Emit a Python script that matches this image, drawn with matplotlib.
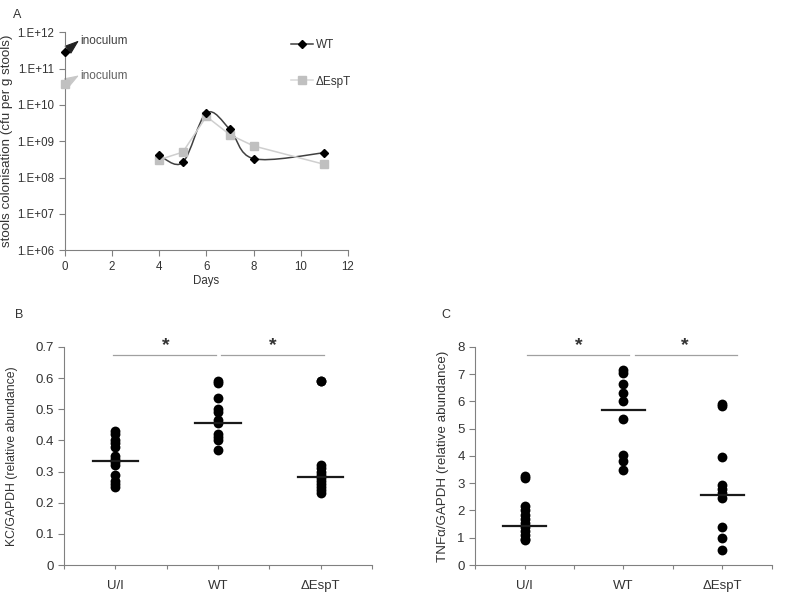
import numpy as np
import matplotlib
matplotlib.use("Agg")
import matplotlib.pyplot as plt
from matplotlib.path import Path
from matplotlib.patches import PathPatch, FancyArrowPatch

plt.rcParams['font.family'] = ['Liberation Sans', 'DejaVu Sans']

# panel A data
days = [4, 5, 6, 7, 8, 11]
wt_cfu = [4.1e8, 2.6e8, 6.0e9, 2.1e9, 3.3e8, 4.8e8]
esp_cfu = [3.1e8, 5.0e8, 4.8e9, 1.5e9, 7.4e8, 2.3e8]
wt_inoc = 2.8e11
esp_inoc = 3.8e10
a_yticks = [1e6, 1e7, 1e8, 1e9, 1e10, 1e11, 1e12]
a_ylabels = ['1.E+06', '1.E+07', '1.E+08', '1.E+09', '1.E+10', '1.E+11', '1.E+12']

# panel B / C data
groups = ['U/I', 'WT', '\u0394EspT']
kc_ui = [0.43, 0.42, 0.40, 0.39, 0.38, 0.35, 0.34, 0.33, 0.32, 0.29, 0.27, 0.26, 0.25]
kc_wt = [0.59, 0.585, 0.535, 0.50, 0.49, 0.465, 0.455, 0.42, 0.41, 0.40, 0.37]
kc_esp = [0.59, 0.59, 0.32, 0.31, 0.30, 0.29, 0.28, 0.27, 0.26, 0.25, 0.24, 0.23]
kc_line = [0.335, 0.455, 0.283]
tnf_ui = [3.25, 3.2, 2.15, 2.0, 1.85, 1.7, 1.55, 1.4, 1.25, 1.1, 0.95, 0.9]
tnf_wt = [7.15, 7.05, 6.65, 6.3, 6.0, 5.35, 4.05, 3.8, 3.5]
tnf_esp = [5.9, 5.85, 3.95, 2.95, 2.8, 2.65, 2.45, 1.4, 1.0, 0.55]
tnf_line = [1.42, 5.67, 2.57]

fig = plt.figure(figsize=(8, 5.97), dpi=100)
spine_c = '#808080'
txt_c = '#333333'


def style(ax):
    for s in ['top', 'right']:
        ax.spines[s].set_visible(False)
    for s in ['left', 'bottom']:
        ax.spines[s].set_color(spine_c)
    ax.tick_params(direction='out', length=4, color=spine_c, labelcolor=txt_c)


def smooth_path(x, y):
    # excel-like smoothed line, built in log space
    ly = np.log10(y)
    pts = np.column_stack([x, ly])
    n = len(pts)
    verts = [pts[0]]
    codes = [Path.MOVETO]
    for i in range(n - 1):
        p0 = pts[i - 1] if i > 0 else pts[i]
        p1 = pts[i]
        p2 = pts[i + 1]
        p3 = pts[i + 2] if i + 2 < n else pts[i + 1]
        c1 = p1 + (p2 - p0) / 6
        c2 = p2 - (p3 - p1) / 6
        verts += [c1, c2, p2]
        codes += [Path.CURVE4] * 3
    verts = np.array(verts)
    verts[:, 1] = 10 ** verts[:, 1]
    return Path(verts, codes)


# ---- panel A
axA = fig.add_axes([0.081, 0.581, 0.354, 0.365])
axA.set_yscale('log')
axA.add_patch(PathPatch(smooth_path(days, wt_cfu), fill=False, ec='#404040', lw=1.1))
axA.plot(days, esp_cfu, color='#cfcfcf', lw=1.1, marker='s', ms=5.5, mfc='#c0c0c0', mec='#c0c0c0')
axA.plot(days, wt_cfu, ls='none', marker='D', ms=4, color='black')
axA.plot([0], [wt_inoc], ls='none', marker='D', ms=4, color='black', clip_on=False, zorder=5)
axA.plot([0], [esp_inoc], ls='none', marker='s', ms=5.5, color='#c0c0c0', clip_on=False, zorder=5)
for start, end, col in [((0, wt_inoc), (0.6, 5.9e11), '#222222'),
                        ((0, esp_inoc), (0.6, 6.5e10), '#c8c8c8')]:
    arr = FancyArrowPatch(start, end, arrowstyle='-|>,head_length=0.9,head_width=0.32',
                          mutation_scale=10, shrinkA=0, shrinkB=0, color=col, lw=0.8,
                          clip_on=False)
    axA.add_patch(arr)
axA.text(0.66, 5.9e11, 'inoculum', fontsize=8.5, color='#404040', va='center', ha='left')
axA.text(0.66, 6.3e10, 'inoculum', fontsize=8.5, color='#606060', va='center', ha='left')
axA.set_xlim(0, 12)
axA.set_ylim(1e6, 1e12)
axA.set_xticks(range(0, 13, 2))
axA.set_yticks(a_yticks)
axA.set_yticklabels(a_ylabels)
axA.yaxis.set_minor_locator(matplotlib.ticker.NullLocator())
axA.tick_params(labelsize=8.3)
axA.set_xlabel('Days', fontsize=8.3, color=txt_c, labelpad=2)
axA.set_ylabel('stools colonisation (cfu per g stools)', fontsize=9.6, color=txt_c, labelpad=3)
style(axA)

h1, = axA.plot([], [], color='#404040', marker='D', ms=4, mfc='black', mec='black', lw=1.1)
h2, = axA.plot([], [], color='#d8d8d8', marker='s', ms=5.5, mfc='#c0c0c0', mec='#c0c0c0', lw=1.1)
fig.legend([h1, h2], ['WT', '\u0394EspT'], loc='upper left', bbox_to_anchor=(0.356, 0.945),
           frameon=False, fontsize=8.5, handlelength=1.9, handletextpad=0.2,
           labelspacing=2.1, borderpad=0, labelcolor=txt_c)


# ---- panels B and C
def dot_panel(rect, data, lines, ymax, ystep, ylabel, lab_fs, lab_pad, sig_y, sig_spans, star_x):
    ax = fig.add_axes(rect)
    xs = [0.5, 1.5, 2.5]
    for x, vals, m in zip(xs, data, lines):
        ax.scatter([x] * len(vals), vals, s=50, color='black', zorder=3, lw=0)
        ax.plot([x - 0.22, x + 0.22], [m, m], color='#1a1a1a', lw=1.6, zorder=4)
    for a, b in sig_spans:
        ax.plot([a, b], [sig_y, sig_y], color='#a0a0a0', lw=0.9, clip_on=False)
    for sx in star_x:
        ax.text(sx, sig_y + ymax * 0.005, '*', fontsize=14, ha='center', va='bottom',
                color='#333333', fontweight='bold')
    ax.set_xlim(0, 3)
    ax.set_ylim(0, ymax)
    ax.set_yticks(np.arange(0, ymax + ystep / 2, ystep))
    ax.set_xticks([0, 0.5, 1, 1.5, 2, 2.5, 3])
    ax.set_xticklabels(['', groups[0], '', groups[1], '', groups[2], ''])
    ax.tick_params(labelsize=9.5)
    ax.set_ylabel(ylabel, fontsize=lab_fs, color=txt_c, labelpad=lab_pad)
    style(ax)
    ax.tick_params(axis='x', length=3, pad=8)
    return ax


axB = dot_panel([0.080, 0.0536, 0.385, 0.3653], [kc_ui, kc_wt, kc_esp], kc_line, 0.7, 0.1,
                'KC/GAPDH (relative abundance)', 8.8, 12,
                0.673, [(0.48, 1.48), (1.53, 2.53)], [0.99, 2.03])
axB.yaxis.set_major_formatter(matplotlib.ticker.FormatStrFormatter('%g'))
axC = dot_panel([0.594, 0.0536, 0.3706, 0.3653], [tnf_ui, tnf_wt, tnf_esp], tnf_line, 8, 1,
                'TNF\u03b1/GAPDH (relative abundance)', 9.6, 6,
                7.7, [(0.52, 1.56), (1.62, 2.65)], [1.05, 2.12])

fig.text(0.016, 0.975, 'A', fontsize=9, color=txt_c, va='center')
fig.text(0.019, 0.472, 'B', fontsize=9, color=txt_c, va='center')
fig.text(0.552, 0.472, 'C', fontsize=9, color=txt_c, va='center')

fig.savefig('out.png', dpi=100)
